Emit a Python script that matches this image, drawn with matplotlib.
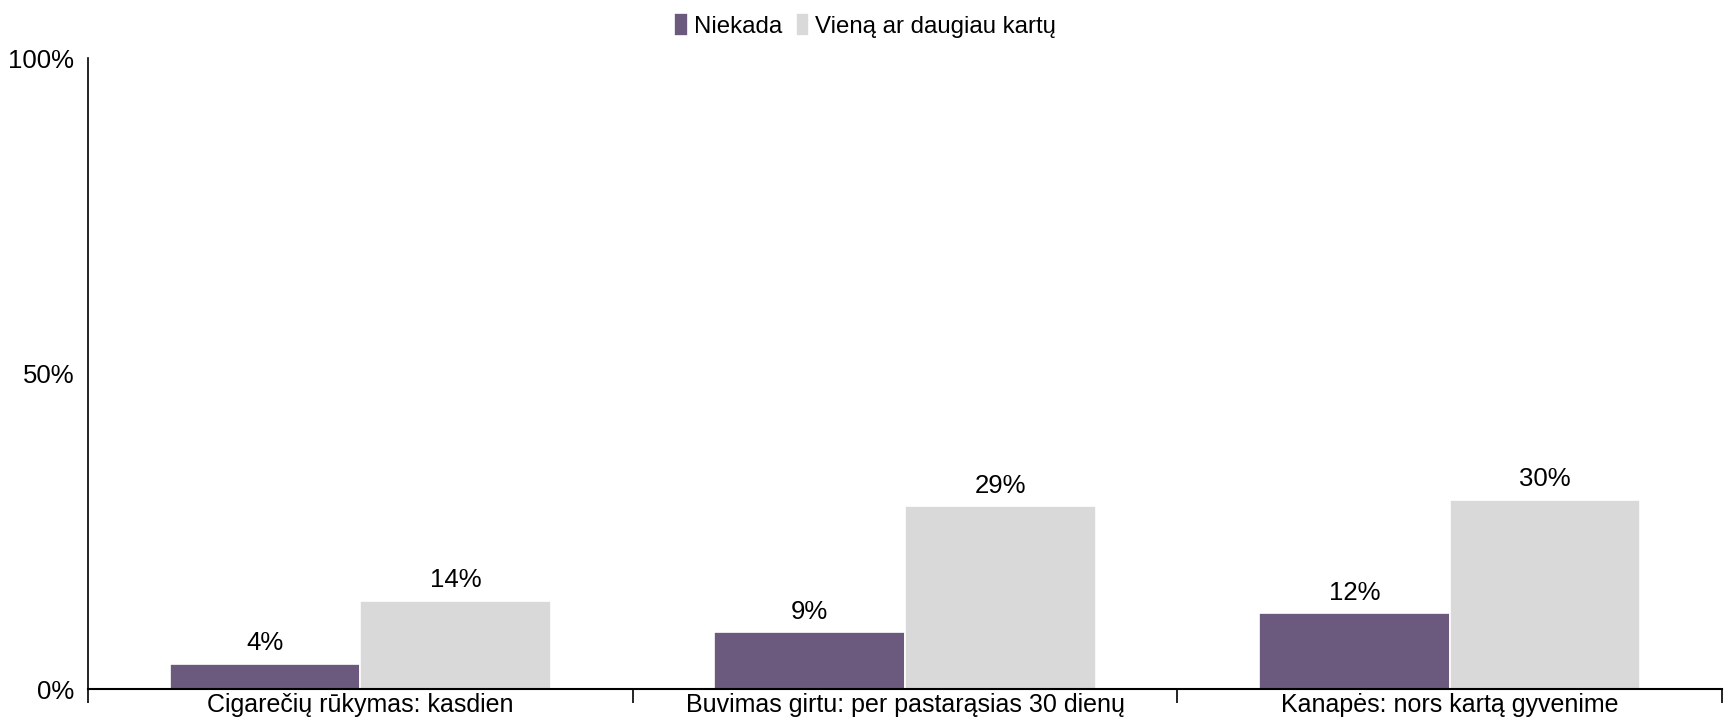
import matplotlib
matplotlib.use("Agg")
import matplotlib.pyplot as plt
import numpy as np

categories = ["Cigarečių rūkymas: kasdien",
              "Buvimas girtu: per pastarąsias 30 dienų",
              "Kanapės: nors kartą gyvenime"]
series_names = ["Niekada", "Vieną ar daugiau kartų"]
niekada = [4, 9, 12]
daugiau = [14, 29, 30]
colors = ["#6B5A7E", "#D9D9D9"]

plt.rcParams["font.family"] = ["Liberation Sans", "DejaVu Sans"]

fig = plt.figure(figsize=(17.33, 7.17), dpi=100)
ax = fig.add_axes([0.0508, 0.039, 0.9429, 0.880])

x = np.arange(len(categories))
w = 0.35
b1 = ax.bar(x - w / 2, niekada, w, color=colors[0], edgecolor="white", linewidth=1.2,
            label=series_names[0])
b2 = ax.bar(x + w / 2, daugiau, w, color=colors[1], edgecolor="white", linewidth=1.2,
            label=series_names[1])

# reikšmės virš stulpelių
for bars in (b1, b2):
    for r in bars:
        ax.annotate(f"{r.get_height():.0f}%", (r.get_x() + r.get_width() / 2, r.get_height()),
                    xytext=(0, 6), textcoords="offset points", ha="center", va="bottom",
                    fontsize=18.5)

ax.set_xlim(-0.5, len(categories) - 0.5)
ax.set_ylim(0, 100)
ax.set_yticks([0, 50, 100])
ax.set_yticklabels(["0%", "50%", "100%"], fontsize=18.5)
ax.tick_params(axis="y", length=0, pad=10)

ax.set_xticks(x)
ax.set_xticklabels(categories, fontsize=18)
ax.set_xticks(np.arange(len(categories) + 1) - 0.5, minor=True)
ax.tick_params(axis="x", which="major", length=0, pad=3)
ax.tick_params(axis="x", which="minor", length=10, width=1.2, direction="out")

for s in ("top", "right"):
    ax.spines[s].set_visible(False)
ax.spines["left"].set_linewidth(1.2)
ax.spines["bottom"].set_linewidth(1.5)

fig.legend(loc="upper center", ncol=2, frameon=False, fontsize=17.3,
           handlelength=0.55, handleheight=1.1, handletextpad=0.27, columnspacing=0.55,
           bbox_to_anchor=(0.4993, 1.012))

fig.savefig("out.png", dpi=100)
